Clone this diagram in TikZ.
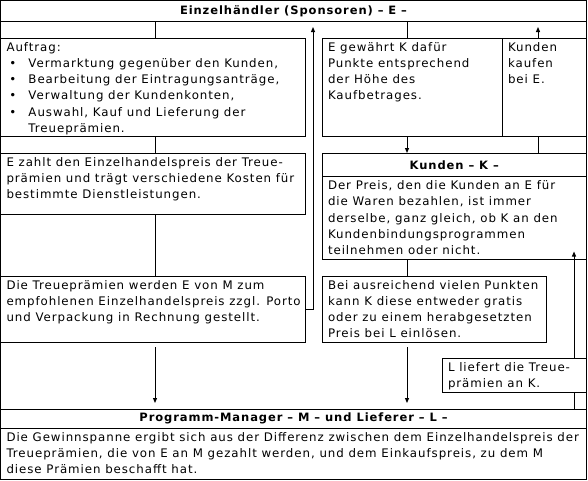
\documentclass[tikz,border=0pt]{standalone}
\usepackage{fontspec}
\setmainfont{DejaVu Sans}[LetterSpace=8.0]
\usetikzlibrary{arrows.meta}

\newcommand\celltext[3]{\parbox[c][#2pt][t]{#1pt}{\leftskip=6pt\rightskip=0pt plus 1fil\parindent=0pt\rule{0pt}{13pt}#3}}
\newcommand\bul{\makebox[22pt][l]{\hspace{3pt}\textbullet}}

\tikzset{
  cell/.style={draw, line width=1pt, inner sep=0pt, outer sep=0pt, anchor=north west,
    font=\fontsize{11.8}{16.3}\selectfont},
  headcell/.style={draw, line width=1pt, inner sep=0pt, outer sep=0pt, anchor=north west,
    font=\bfseries\fontsize{11.5}{14}\selectfont, align=center},
  link/.style={line width=1pt},
}

\begin{document}
\begin{tikzpicture}[x=1pt, y=-1pt, >={Triangle[length=5pt,width=4pt]}]
    \useasboundingbox (0,0) rectangle (588,480);
    % Frame
    \node[draw, line width=1pt, inner sep=0pt, outer sep=0pt, anchor=north west,
      minimum width=586pt, minimum height=479pt] (Frame) at (0.5,0.5) {};

    % Nodes
    \node[headcell, minimum width=586pt, minimum height=21pt] (Einzel) at (0.5,0.5)
      {Einzelhändler (Sponsoren) – E –};
    \node[cell] (Auftrag) at (0.5,38) {\celltext{305}{98}{Auftrag:\\
      \bul Vermarktung gegenüber den Kunden,\\
      \bul Bearbeitung der Eintragungsanträge,\\
      \bul Verwaltung der Kundenkonten,\\
      \bul Auswahl, Kauf und Lieferung der\\
      \hspace*{22pt}Treueprämien.}};
    \node[cell] (Zahlt) at (0.5,153) {\celltext{305}{61}{E zahlt den Einzelhandelspreis der Treue-\\
      prämien und trägt verschiedene Kosten für\\
      bestimmte Dienstleistungen.}};
    \node[cell] (Treue) at (0.5,276) {\celltext{305}{66}{Die Treueprämien werden E von M zum\\
      empfohlenen Einzelhandelspreis zzgl. Porto\\
      und Verpackung in Rechnung gestellt.}};
    \node[cell] (Gewaehrt) at (322,38) {\celltext{180}{98}{E gewährt K dafür\\
      Punkte entsprechend\\
      der Höhe des\\
      Kaufbetrages.}};
    \node[cell] (Kaufen) at (502,38) {\celltext{84.5}{98}{Kunden\\
      kaufen\\
      bei E.}};
    \node[headcell, minimum width=264.5pt, minimum height=23.5pt] (Kunden) at (322,153)
      {Kunden – K –};
    \node[cell] (Preis) at (322,176.5) {\celltext{264.5}{83}{Der Preis, den die Kunden an E für\\
      die Waren bezahlen, ist immer\\
      derselbe, ganz gleich, ob K an den\\
      Kundenbindungsprogrammen\\
      teilnehmen oder nicht.}};
    \node[cell] (Punkte) at (322,276) {\celltext{224}{66}{Bei ausreichend vielen Punkten\\
      kann K diese entweder gratis\\
      oder zu einem herabgesetzten\\
      Preis bei L einlösen.}};
    \node[cell] (Liefert) at (442,358.5) {\celltext{144.5}{33.5}{L liefert die Treue-\\
      prämien an K.}};
    \node[headcell, minimum width=586pt, minimum height=19pt] (Manager) at (0.5,409)
      {Programm-Manager – M – und Lieferer – L –};
    \node[cell] (Spanne) at (0.5,428) {\celltext{586}{51.5}{Die Gewinnspanne ergibt sich aus der Differenz zwischen dem Einzelhandelspreis der\\
      Treueprämien, die von E an M gezahlt werden, und dem Einkaufspreis, zu dem M\\
      diese Prämien beschafft hat.}};

    % Lanes
    \coordinate (LaneE) at (155,0);
    \coordinate (LaneM) at (313,0);
    \coordinate (LaneK) at (407,0);
    \coordinate (LaneB) at (538,0);
    \coordinate (LaneL) at (574,0);

    % Arrows
    \draw[link] (Einzel.south -| LaneE) -- (Auftrag.north -| LaneE);
    \draw[link] (Auftrag.south -| LaneE) -- (Zahlt.north -| LaneE);
    \draw[link] (Zahlt.south -| LaneE) -- (Treue.north -| LaneE);
    \draw[link, ->, shorten <=5pt, shorten >=6pt] (Treue.south -| LaneE) -- (Manager.north -| LaneE);
    \draw[link, ->, shorten >=5.5pt] (Treue.east) -| (Einzel.south -| LaneM);
    \draw[link] (Einzel.south -| LaneK) -- (Gewaehrt.north -| LaneK);
    \draw[link, ->] (Gewaehrt.south -| LaneK) -- (Kunden.north -| LaneK);
    \draw[link, ->, shorten >=5.5pt] (Kaufen.north -| LaneB) -- (Einzel.south -| LaneB);
    \draw[link] (Kaufen.south -| LaneB) -- (Kunden.north -| LaneB);
    \draw[link] (Preis.south -| LaneK) -- (Punkte.north -| LaneK);
    \draw[link, ->, shorten <=5pt, shorten >=6pt] (Punkte.south -| LaneK) -- (Manager.north -| LaneK);
    \draw[link, ->, shorten >=-8pt] (Liefert.north -| LaneL) -- (Preis.south -| LaneL);
    \draw[link] (Liefert.south -| LaneL) -- (Manager.north -| LaneL);
\end{tikzpicture}
\end{document}
